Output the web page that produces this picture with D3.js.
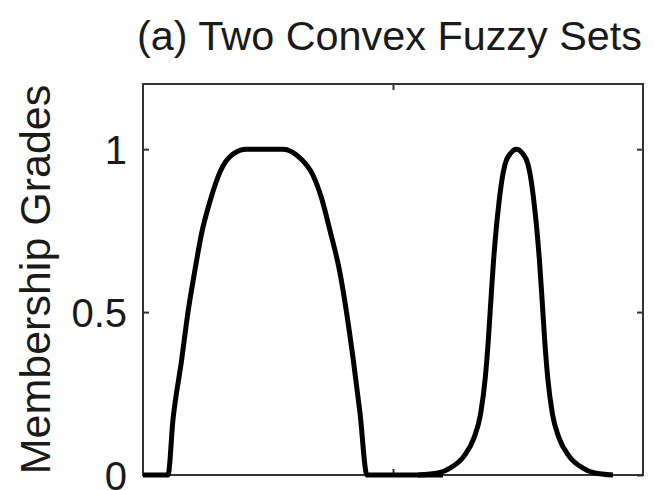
<!DOCTYPE html>
<html>
<head>
<meta charset="utf-8">
<script src="https://cdn.jsdelivr.net/npm/d3@7"></script>
<style>
  html, body { margin: 0; padding: 0; background: #fff; }
  svg { display: block; }
  text { font-family: Arial, "Liberation Sans", Helvetica, sans-serif; fill: #1a1a1a; }
</style>
</head>
<body>
<svg id="chart" width="654" height="490"></svg>
<script>
// ---- data ----
const titleText = "(a) Two Convex Fuzzy Sets";
const yLabelText = "Membership Grades";
const xDomain = [0, 100];
const yDomain = [0, 1.2];
const xTicks = [50];
const yTicks = [0, 0.5, 1];
const yTickLabels = ["0", "0.5", "1"];

const setAx = [0, 5, 6, 7.7, 9, 10.4, 11.7, 13.4, 15.4, 18, 20.7, 28, 31.4, 34, 35.7, 37.4, 39.4, 40.7, 42, 43.4, 44.8, 60];
const setAy = [0, 0, 0.17, 0.35, 0.5, 0.63, 0.74, 0.84, 0.93, 0.985, 1, 1, 0.973, 0.92, 0.85, 0.75, 0.62, 0.5, 0.36, 0.19, 0, 0];

const setBx = [55, 59.2, 61.5, 64.2, 66.2, 67.5, 68.45, 69.05, 69.65, 70.1, 70.6, 71.15, 71.75, 72.4, 73.5, 74.7,
               75.9, 77.0, 77.65, 78.25, 78.8, 79.3, 79.75, 80.35, 80.95, 81.9, 83.2, 85.2, 87.9, 90.2, 94];
const setBy = [0, 0.007, 0.022, 0.058, 0.114, 0.186, 0.298, 0.411, 0.554, 0.656, 0.748, 0.83, 0.902, 0.953, 0.987, 1,
               0.987, 0.953, 0.902, 0.83, 0.748, 0.656, 0.554, 0.411, 0.298, 0.186, 0.114, 0.058, 0.022, 0.007, 0];

// ---- layout ----
const svg = d3.select("#chart");
const plot = { left: 143, right: 643, top: 84, bottom: 475 };

const x = d3.scaleLinear().domain(xDomain).range([plot.left, plot.right]);
const y = d3.scaleLinear().domain(yDomain).range([plot.bottom, plot.top]);

const tickLen = 6;
const axisColor = "#333";

// left axis with labels
const gLeft = svg.append("g").attr("transform", `translate(${plot.left},0)`)
  .call(d3.axisLeft(y).tickValues(yTicks).tickSizeInner(-tickLen).tickSizeOuter(0)
    .tickPadding(16).tickFormat((d, i) => yTickLabels[i]));
gLeft.select(".domain").remove();
gLeft.selectAll(".tick line").attr("stroke", axisColor).attr("stroke-width", 2);
gLeft.selectAll(".tick text").style("font-size", "40px").attr("fill", "#1a1a1a").attr("dy", "0.36em");

// right axis ticks
const gRight = svg.append("g").attr("transform", `translate(${plot.right},0)`)
  .call(d3.axisRight(y).tickValues(yTicks).tickSizeInner(-tickLen).tickSizeOuter(0).tickFormat(""));
gRight.select(".domain").remove();
gRight.selectAll(".tick line").attr("stroke", axisColor).attr("stroke-width", 2);

// top and bottom ticks
const gTop = svg.append("g").attr("transform", `translate(0,${plot.top})`)
  .call(d3.axisTop(x).tickValues(xTicks).tickSizeInner(-tickLen).tickSizeOuter(0).tickFormat(""));
gTop.select(".domain").remove();
gTop.selectAll(".tick line").attr("stroke", axisColor).attr("stroke-width", 2);
const gBot = svg.append("g").attr("transform", `translate(0,${plot.bottom})`)
  .call(d3.axisBottom(x).tickValues(xTicks).tickSizeInner(-tickLen).tickSizeOuter(0).tickFormat(""));
gBot.select(".domain").remove();
gBot.selectAll(".tick line").attr("stroke", axisColor).attr("stroke-width", 2);

// box
svg.append("rect")
  .attr("x", plot.left).attr("y", plot.top)
  .attr("width", plot.right - plot.left).attr("height", plot.bottom - plot.top)
  .attr("fill", "none").attr("stroke", axisColor).attr("stroke-width", 2);

// curves
const line = d3.line().x(d => x(d[0])).y(d => y(d[1])).curve(d3.curveMonotoneX);
const setA = setAx.map((v, i) => [v, setAy[i]]);
const setB = setBx.map((v, i) => [v, setBy[i]]);
[setA, setB].forEach(s => {
  svg.append("path").datum(s).attr("d", line)
    .attr("fill", "none").attr("stroke", "#000").attr("stroke-width", 5)
    .attr("stroke-linejoin", "round").attr("stroke-linecap", "butt");
});

// title
svg.append("text").attr("x", 389.5).attr("y", 50)
  .attr("text-anchor", "middle").style("font-size", "40px")
  .attr("textLength", 505).attr("lengthAdjust", "spacingAndGlyphs").text(titleText);

// y label
svg.append("text")
  .attr("transform", `translate(50,${(plot.top + plot.bottom) / 2}) rotate(-90)`)
  .attr("text-anchor", "middle").style("font-size", "43px").text(yLabelText);
</script>
</body>
</html>
